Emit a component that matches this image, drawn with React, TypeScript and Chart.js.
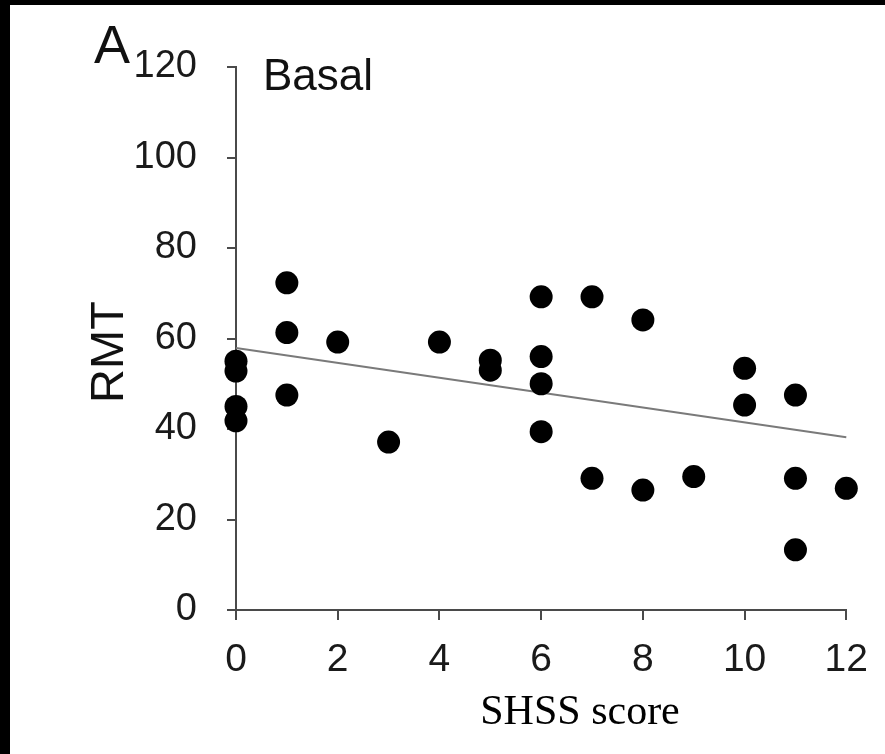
import React, { useEffect, useRef } from "react";
import { Chart, registerables } from "chart.js";

Chart.register(...registerables);

// SHSS score (x) and RMT (y) for each subject
const shssScores = [0, 0, 0, 0, 1, 1, 1, 2, 3, 4, 5, 5, 6, 6, 6, 6, 7, 7, 8, 8, 9, 10, 10, 11, 11, 11, 12];
const rmtValues = [55, 52.8, 45, 41.8, 72.3, 61.3, 47.5, 59.2, 37.1, 59.2, 55.2, 53, 69.2, 56, 50, 39.4, 69.2, 29.1, 64.1, 26.5, 29.5, 53.4, 45.3, 47.5, 29.1, 13.3, 26.9];

// regression line end points
const trendX = [0, 12];
const trendY = [57.9, 38.2];

// axis ticks
const xTicks = [0, 2, 4, 6, 8, 10, 12];
const yTicks = [0, 20, 40, 60, 80, 100, 120];

const panelLabel = "A";
const conditionLabel = "Basal";
const yTitle = "RMT";
const xTitle = "SHSS score";

const SANS = "'Liberation Sans', Arial, sans-serif";
const SERIF = "'Liberation Serif', 'Times New Roman', serif";

export default function App() {
  const ref = useRef<HTMLCanvasElement | null>(null);

  useEffect(() => {
    const canvas = ref.current;
    if (!canvas) return;

    const textPlugin = {
      id: "annotTexts",
      afterDraw(chart: any) {
        const ctx = chart.ctx as CanvasRenderingContext2D;
        ctx.save();
        ctx.fillStyle = "#111";
        ctx.textAlign = "left";
        ctx.textBaseline = "alphabetic";
        ctx.font = `54px ${SANS}`;
        ctx.fillText(panelLabel, 84, 58);
        ctx.font = `44px ${SANS}`;
        ctx.fillText(conditionLabel, 253, 85);

        ctx.save();
        ctx.translate(113, 347);
        ctx.rotate(-Math.PI / 2);
        ctx.textAlign = "center";
        ctx.font = `47px ${SANS}`;
        ctx.fillText(yTitle, 0, 0);
        ctx.restore();

        ctx.fillStyle = "#000";
        ctx.textAlign = "center";
        ctx.font = `42px ${SERIF}`;
        ctx.fillText(xTitle, 570, 719);
        ctx.restore();
      },
    };

    const chart = new Chart(canvas, {
      type: "scatter",
      data: {
        datasets: [
          {
            type: "line",
            data: trendX.map((x, i) => ({ x, y: trendY[i] })),
            borderColor: "#7a7a7a",
            borderWidth: 2,
            pointRadius: 0,
            fill: false,
            clip: false,
            order: 2,
          } as any,
          {
            type: "scatter",
            data: shssScores.map((x, i) => ({ x, y: rmtValues[i] })),
            backgroundColor: "#000",
            borderColor: "#000",
            borderWidth: 0,
            pointRadius: 11.5,
            pointHoverRadius: 11.5,
            clip: false,
            order: 1,
          } as any,
        ],
      },
      options: {
        animation: false,
        responsive: false,
        devicePixelRatio: 1,
        events: [],
        layout: { padding: { top: 62, right: 27, bottom: 0, left: 0 } },
        plugins: {
          legend: { display: false },
          tooltip: { enabled: false },
          title: { display: false },
        },
        scales: {
          x: {
            type: "linear",
            min: 0,
            max: 12,
            afterBuildTicks: (scale: any) => {
              scale.ticks = xTicks.map((v) => ({ value: v }));
            },
            afterFit: (scale: any) => {
              scale.height = 144;
            },
            ticks: {
              font: { family: SANS, size: 39 },
              color: "#1a1a1a",
              padding: 17,
              maxRotation: 0,
              autoSkip: false,
            },
            grid: {
              drawOnChartArea: false,
              drawTicks: true,
              tickLength: 10,
              color: "#4a4a4a",
              lineWidth: 2,
            },
            border: { display: true, color: "#4a4a4a", width: 2 },
          },
          y: {
            type: "linear",
            min: 0,
            max: 120,
            afterBuildTicks: (scale: any) => {
              scale.ticks = yTicks.map((v) => ({ value: v }));
            },
            afterFit: (scale: any) => {
              scale.width = 226;
            },
            ticks: {
              font: { family: SANS, size: 38 },
              color: "#1a1a1a",
              padding: 30,
              autoSkip: false,
            },
            grid: {
              drawOnChartArea: false,
              drawTicks: true,
              tickLength: 9,
              color: "#4a4a4a",
              lineWidth: 2,
            },
            border: { display: true, color: "#4a4a4a", width: 2 },
          },
        },
      },
      plugins: [textPlugin],
    });

    return () => chart.destroy();
  }, []);

  return (
    <div
      style={{
        position: "absolute",
        left: 0,
        top: 0,
        width: 885,
        height: 754,
        background: "#000",
        overflow: "hidden",
      }}
    >
      <canvas
        ref={ref}
        width={875}
        height={749}
        style={{ position: "absolute", left: 10, top: 5, width: 875, height: 749, background: "#fff" }}
      />
    </div>
  );
}
